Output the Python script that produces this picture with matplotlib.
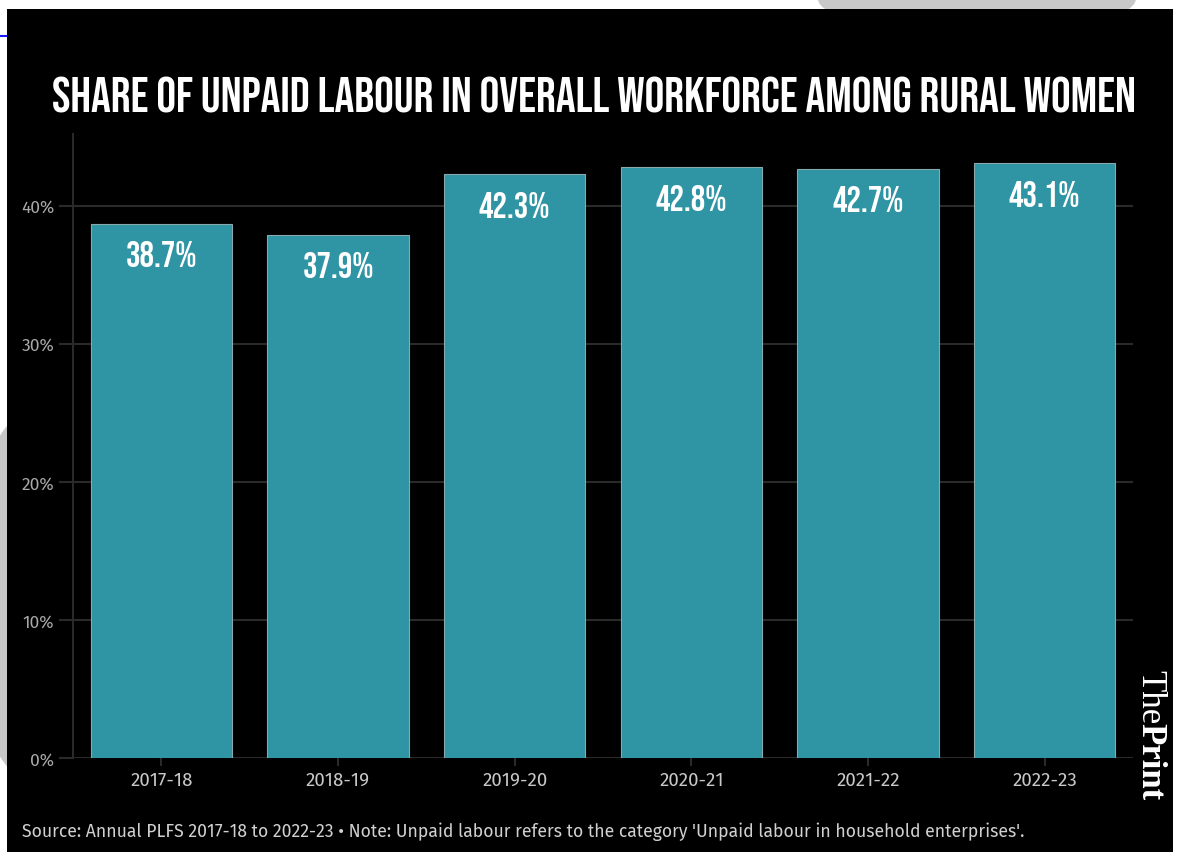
import matplotlib
matplotlib.use('Agg')
import matplotlib.pyplot as plt
from matplotlib.patches import Rectangle, Ellipse
from matplotlib.ticker import FuncFormatter

# Datos
years = ['2017-18', '2018-19', '2019-20', '2020-21', '2021-22', '2022-23']
share = [38.7, 37.9, 42.3, 42.8, 42.7, 43.1]
y_ticks = [0, 10, 20, 30, 40]

title = 'SHARE OF UNPAID LABOUR IN OVERALL WORKFORCE AMONG RURAL WOMEN'
note = ("Source: Annual PLFS 2017-18 to 2022-23 \u2022 Note: Unpaid labour refers to the "
        "category 'Unpaid labour in household enterprises'.")

display = ['Bebas Neue', 'DejaVu Sans']
serif = ['Liberation Serif', 'DejaVu Serif']
plt.rcParams['font.family'] = ['Fira Sans', 'DejaVu Sans']

W, H = 1177, 853
fig = plt.figure(figsize=(W / 100, H / 100), dpi=100, facecolor='white')

# fondo gris detras del panel (captura de pantalla)
fig.patches.append(Ellipse((0.02, 0.30), 0.09, 0.42, transform=fig.transFigure,
                           facecolor='#c8c8c8', edgecolor='none', zorder=0))
fig.patches.append(Ellipse((0.83, 1.0), 0.27, 0.08, transform=fig.transFigure,
                           facecolor='#c8c8c8', edgecolor='none', zorder=0))
# panel negro
fig.patches.append(Rectangle((7 / W, 0), 1166 / W, 843 / H, transform=fig.transFigure,
                             facecolor='black', edgecolor='none', zorder=1))
fig.lines.append(plt.Line2D([0, 7 / W], [1 - 37 / H, 1 - 37 / H], transform=fig.transFigure,
                            color='#1a1aff', lw=1.5, zorder=1))

ax = fig.add_axes([73 / W, 1 - 759 / H, (1133 - 73) / W, (759 - 135) / H])
ax.set_facecolor('black')
ax.set_zorder(2)

x = list(range(len(years)))
ax.bar(x, share, width=0.8, color='#2f94a3', edgecolor='#8aa9ad', linewidth=0.8, zorder=3)

for xi, v in zip(x, share):
    ax.annotate(f'{v:.1f}%', (xi, v), xytext=(0, -12), textcoords='offset points',
                ha='center', va='top', color='white', fontsize=26, family=display, zorder=4)

ax.set_xlim(-0.5, 5.5)
ax.set_ylim(0, 45.2)
ax.set_yticks(y_ticks)
ax.yaxis.set_major_formatter(FuncFormatter(lambda v, p: f'{v:.0f}%'))
ax.set_xticks(x)
ax.set_xticklabels(years)
ax.grid(axis='y', color='#2a2a2a', linewidth=1.5, zorder=0)
ax.tick_params(axis='y', colors='#2a2a2a', labelcolor='#a8a8a8', labelsize=12.5, length=10, width=1.5)
ax.tick_params(axis='x', colors='#2a2a2a', labelcolor='#c8c8c8', labelsize=13.5, length=6, width=1.5)
for s in ['top', 'right', 'bottom']:
    ax.spines[s].set_visible(False)
ax.spines['left'].set_color('#2a2a2a')
ax.spines['left'].set_linewidth(1.5)

fig.text(594 / W, 1 - 95 / H, title, ha='center', va='center', color='white',
         fontsize=35.5, family=display, zorder=5)
fig.text(22 / W, 1 - 832 / H, note, ha='left', va='center', color='#d0d0d0',
         fontsize=12.7, zorder=5)

# logo
fig.text(1150 / W, 1 - 670 / H, 'The', rotation=-90, ha='center', va='top', color='white',
         fontsize=25, family=serif, zorder=5)
fig.text(1150 / W, 1 - 723 / H, 'Print', rotation=-90, ha='center', va='top', color='white',
         fontsize=25, fontweight='bold', family=serif, zorder=5)

fig.savefig('out.png', dpi=100, facecolor='white')
